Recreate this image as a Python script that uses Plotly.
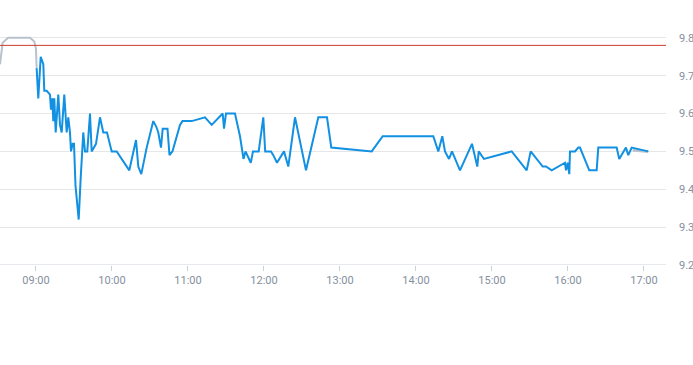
import plotly.graph_objects as go

DAY = "2024-01-02 "

# Pre-market (grey) series
pre_times = ["08:31:35", "08:33:40", "08:38:00", "08:55:15", "08:58:40", "09:00:00", "09:00:30"]
pre_prices = [9.73, 9.787, 9.80, 9.80, 9.79, 9.77, 9.72]

# Regular session (blue) series
times = [
    "09:00:30", "09:01:49", "09:03:43", "09:05:46", "09:06:33", "09:08:27", "09:11:03", "09:11:50",
    "09:12:52", "09:13:40", "09:14:27", "09:15:33", "09:17:36", "09:18:57", "09:20:17", "09:22:20",
    "09:24:14", "09:25:30", "09:26:50", "09:27:38", "09:28:58", "09:30:00", "09:31:11", "09:33:43",
    "09:35:17", "09:37:20", "09:38:41", "09:40:30", "09:42:38", "09:43:58", "09:47:22", "09:50:32",
    "09:53:08", "09:56:03", "09:59:46", "10:03:43", "10:13:40", "10:18:57", "10:20:46", "10:23:08",
    "10:27:24", "10:32:36", "10:34:59", "10:36:33", "10:38:41", "10:40:02", "10:43:49", "10:45:24",
    "10:47:46", "10:53:41", "10:55:40", "11:02:55", "11:13:25", "11:18:43", "11:27:24", "11:28:26",
    "11:30:00", "11:37:06", "11:41:03", "11:43:49", "11:45:24", "11:49:35", "11:51:19", "11:55:49",
    "11:59:27", "12:00:57", "12:05:32", "12:07:21", "12:10:16", "12:15:48", "12:19:11", "12:24:29",
    "12:33:10", "12:42:53", "12:49:45", "12:53:08", "13:25:02", "13:33:43", "14:13:40", "14:17:37",
    "14:20:46", "14:22:54", "14:26:04", "14:28:26", "14:34:45", "14:44:13", "14:48:24", "14:49:31",
    "14:53:41", "15:15:34", "15:27:24", "15:30:34", "15:40:02", "15:42:38", "15:47:08", "15:57:38",
    "15:58:25", "15:59:46", "16:01:02", "16:01:35", "16:05:32", "16:08:08", "16:09:28", "16:16:49",
    "16:22:39", "16:23:55", "16:38:26", "16:40:29", "16:45:47", "16:47:36", "16:50:17", "17:03:24",
]
prices = [
    9.72, 9.64, 9.75, 9.73, 9.66, 9.66, 9.65, 9.61,
    9.64, 9.58, 9.64, 9.55, 9.65, 9.57, 9.55, 9.65,
    9.55, 9.59, 9.55, 9.50, 9.52, 9.52, 9.41, 9.32,
    9.43, 9.55, 9.50, 9.50, 9.60, 9.50, 9.52, 9.59,
    9.55, 9.55, 9.50, 9.50, 9.45, 9.53, 9.46, 9.44,
    9.51, 9.58, 9.565, 9.55, 9.51, 9.56, 9.56, 9.49,
    9.50, 9.57, 9.58, 9.58, 9.59, 9.57, 9.60, 9.56,
    9.60, 9.60, 9.54, 9.48, 9.50, 9.47, 9.50, 9.50,
    9.59, 9.50, 9.50, 9.49, 9.47, 9.50, 9.46, 9.59,
    9.45, 9.59, 9.59, 9.51, 9.50, 9.54, 9.54, 9.50,
    9.54, 9.50, 9.48, 9.50, 9.45, 9.52, 9.46, 9.50,
    9.48, 9.50, 9.45, 9.50, 9.46, 9.46, 9.45, 9.47,
    9.45, 9.47, 9.44, 9.50, 9.50, 9.51, 9.51, 9.45,
    9.45, 9.51, 9.51, 9.48, 9.51, 9.49, 9.51, 9.50,
]

# Post-market (grey) series
post_times = ["16:51:00", "17:03:24"]
post_prices = [9.503, 9.499]

prev_close = 9.78

y_ticks = [9.2, 9.3, 9.4, 9.5, 9.6, 9.7, 9.8]
x_ticks = ["09:00", "10:00", "11:00", "12:00", "13:00", "14:00", "15:00", "16:00", "17:00"]
x_range = ["08:31:35", "17:17:23"]
y_range = [9.2, 9.81]

grey = "#b9c1cc"
blue = "#1290e2"

fig = go.Figure()
fig.add_trace(go.Scatter(
    x=[DAY + t for t in pre_times], y=pre_prices, mode="lines",
    line=dict(color=grey, width=2), hoverinfo="skip", showlegend=False,
))
fig.add_trace(go.Scatter(
    x=[DAY + t for t in post_times], y=post_prices, mode="lines",
    line=dict(color=grey, width=2.5), hoverinfo="skip", showlegend=False,
))
fig.add_trace(go.Scatter(
    x=[DAY + t for t in times], y=prices, mode="lines",
    line=dict(color=blue, width=2), hoverinfo="skip", showlegend=False,
))

fig.add_shape(type="line", xref="paper", x0=0, x1=1, yref="y", y0=prev_close, y1=prev_close,
              line=dict(color="#cc3b2e", width=1), layer="above")
# Slightly darker baseline at the bottom of the plot
fig.add_shape(type="line", xref="paper", x0=0, x1=1, yref="y", y0=y_range[0], y1=y_range[0],
              line=dict(color="#ccd2da", width=1), layer="below")

fig.update_layout(
    width=693, height=365,
    autosize=False,
    margin=dict(l=0, r=27, t=34, b=100, autoexpand=False),
    paper_bgcolor="white", plot_bgcolor="white",
    font=dict(family="Roboto, Arial, sans-serif", size=11, color="#8590a0"),
    hovermode=False,
    xaxis=dict(
        type="date",
        range=[DAY + x_range[0], DAY + x_range[1]],
        tickvals=[DAY + t for t in x_ticks],
        ticktext=x_ticks,
        showgrid=False, zeroline=False,
        showline=False,
        ticks="outside", ticklen=5, tickcolor="#ccd2da", tickwidth=1,
        tickfont=dict(size=11, color="#8590a0"),
        fixedrange=True,
    ),
    yaxis=dict(
        side="right",
        range=y_range,
        tickvals=y_ticks,
        tickformat=".1f",
        showgrid=True, gridcolor="#e6e6e6", gridwidth=1,
        zeroline=False, showline=False,
        ticks="", ticklabelstandoff=12,
        tickfont=dict(size=11, color="#8590a0"),
        fixedrange=True,
    ),
)

fig.write_html("out.html", config={"displayModeBar": False},
               post_script="document.body.style.margin='0';document.body.style.overflow='hidden';")
